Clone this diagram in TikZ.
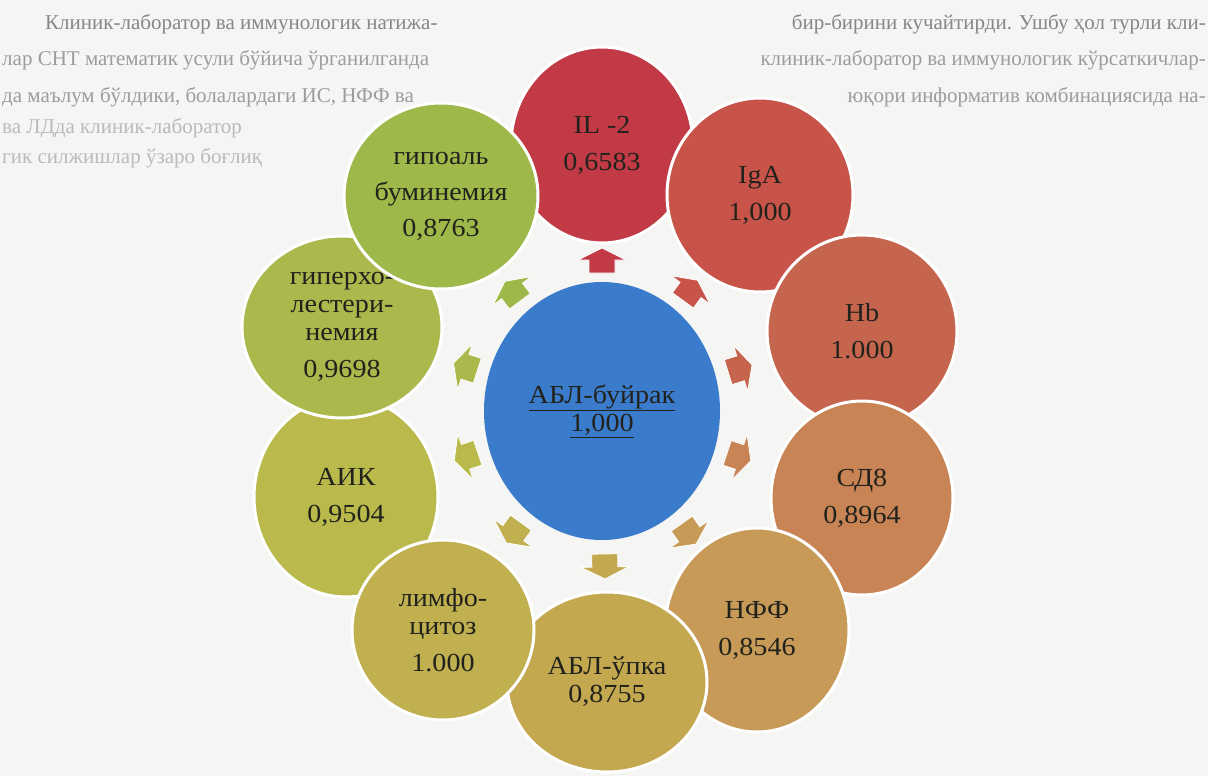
\documentclass[tikz,border=0pt]{standalone}
\usepackage{fontspec}
\setmainfont{Liberation Serif}
\usetikzlibrary{shapes.geometric,calc}
\definecolor{bg}{HTML}{F5F5F3}
\definecolor{cBlue}{HTML}{3B7BCB}
\definecolor{cIL}{HTML}{C23A46}
\definecolor{cIgA}{HTML}{C85348}
\definecolor{cHb}{HTML}{C6654E}
\definecolor{cCD}{HTML}{C98455}
\definecolor{cNF}{HTML}{C79A57}
\definecolor{cAU}{HTML}{C4A850}
\definecolor{cLF}{HTML}{C0B050}
\definecolor{cAK}{HTML}{B9BA4B}
\definecolor{cGX}{HTML}{AAB84C}
\definecolor{cGA}{HTML}{9EB84A}
\definecolor{txt}{HTML}{22221C}
\definecolor{bgA}{HTML}{868686}
\definecolor{bgB}{HTML}{9C9C9C}
\definecolor{bgC}{HTML}{BABABA}
\begin{document}
\begin{tikzpicture}[x=1pt,y=1pt,
  bubble/.style={ellipse, fill=#1, draw=white, line width=3pt, inner sep=0pt},
  lbl/.style={align=center, text=txt, font=\fontsize{26}{28}\selectfont, inner sep=0pt,
              xscale=1.08, transform shape},
  bgtext/.style={font=\fontsize{21}{26}\selectfont, text=#1, inner sep=0pt},
  barrow/.style={fill=#1, draw=white, line width=0.8pt}
]
\fill[bg] (0,0) rectangle (1208,-776);
\useasboundingbox (0,0) rectangle (1208,-776);

% faint page text behind the diagram
\node[bgtext=bgA, anchor=west] (t1a) at (45,-24) {Клиник-лаборатор ва иммунологик натижа-};
\node[bgtext=bgA, anchor=east] (t1b) at (1206,-24) {бир-бирини кучайтирди. Ушбу ҳол турли кли-};
\node[bgtext=bgB, anchor=west] (t2a) at (2,-60) {лар СНТ математик усули бўйича ўрганилганда};
\node[bgtext=bgB, anchor=east] (t2b) at (1206,-60) {клиник-лаборатор ва иммунологик кўрсаткичлар-};
\node[bgtext=bgB, anchor=west] (t3a) at (2,-97) {да маълум бўлдики, болалардаги ИС, НФФ ва};
\node[bgtext=bgB, anchor=east] (t3b) at (1206,-97) {юқори информатив комбинациясида на-};
\node[bgtext=bgC, anchor=west] (t4a) at (2,-128) {ва ЛДда клиник-лаборатор};
\node[bgtext=bgC, anchor=west] (t5a) at (2,-158) {гик силжишлар ўзаро боғлиқ};

% outer bubbles (drawing order gives the overlaps)
\node[bubble=cIL, minimum width=182pt, minimum height=196pt,
  label={[lbl]center:{IL -2\\[9pt]0,6583}}] (il) at (602,-145) {};
\node[bubble=cIgA, minimum width=186pt, minimum height=194pt,
  label={[lbl]center:{IgA\\[9pt]1,000}}] (iga) at (760,-195) {};
\node[bubble=cHb, minimum width=190pt, minimum height=192pt,
  label={[lbl]center:{Hb\\[9pt]1.000}}] (hb) at (862,-331) {};
\node[bubble=cCD, minimum width=182pt, minimum height=194pt,
  label={[lbl]center:{СД8\\[9pt]0,8964}}] (cd) at (862,-498) {};
\node[bubble=cNF, minimum width=184pt, minimum height=204pt,
  label={[lbl]center:{НФФ\\[9pt]0,8546}}] (nf) at (757,-630) {};
\node[bubble=cAU, minimum width=200pt, minimum height=180pt,
  label={[lbl]center:{АБЛ-ўпка\\0,8755}}] (au) at (607,-682) {};
\node[bubble=cAK, minimum width=184pt, minimum height=200pt,
  label={[lbl]center:{АИК\\[9pt]0,9504}}] (ak) at (346,-497) {};
\node[bubble=cLF, minimum width=182pt, minimum height=180pt,
  label={[lbl]center:{лимфо-\\цитоз\\[9pt]1.000}}] (lf) at (443,-630) {};
\node[bubble=cGX, minimum width=200pt, minimum height=182pt,
  label={[lbl]center:{гиперхо-\\лестери-\\немия\\[9pt]0,9698}}] (gx) at (342,-327) {};
\node[bubble=cGA, minimum width=194pt, minimum height=186pt,
  label={[lbl]center:{гипоаль\\[8pt]буминемия\\[8pt]0,8763}}] (ga) at (441,-196) {};

% central bubble
\node[bubble=cBlue, draw=none, minimum width=236pt, minimum height=258pt,
  label={[lbl]center:{\underline{АБЛ-буйрак}\\\underline{1,000}}}] (kid) at (602,-411) {};

% block arrows from the centre toward each bubble
\foreach \o/\d/\col in {il/150pt/cIL, iga/149pt/cIgA, hb/144pt/cHb, cd/144pt/cCD,
                        nf/150pt/cNF, au/155pt/cAU, lf/150pt/cLF, ak/143pt/cAK,
                        gx/143pt/cGX, ga/149pt/cGA}{
  \pgfmathanglebetweenpoints{\pgfpointanchor{kid}{center}}{\pgfpointanchor{\o}{center}}
  \let\ang\pgfmathresult
  \coordinate (ap) at ($(kid.center)!\d!(\o.center)$);
  \filldraw[barrow=\col, shift={(ap)}, rotate=\ang]
    (-12,-13) -- (1,-13) -- (1,-24) -- (13,0) -- (1,24) -- (1,13) -- (-12,13) -- cycle;
}
\end{tikzpicture}
\end{document}
